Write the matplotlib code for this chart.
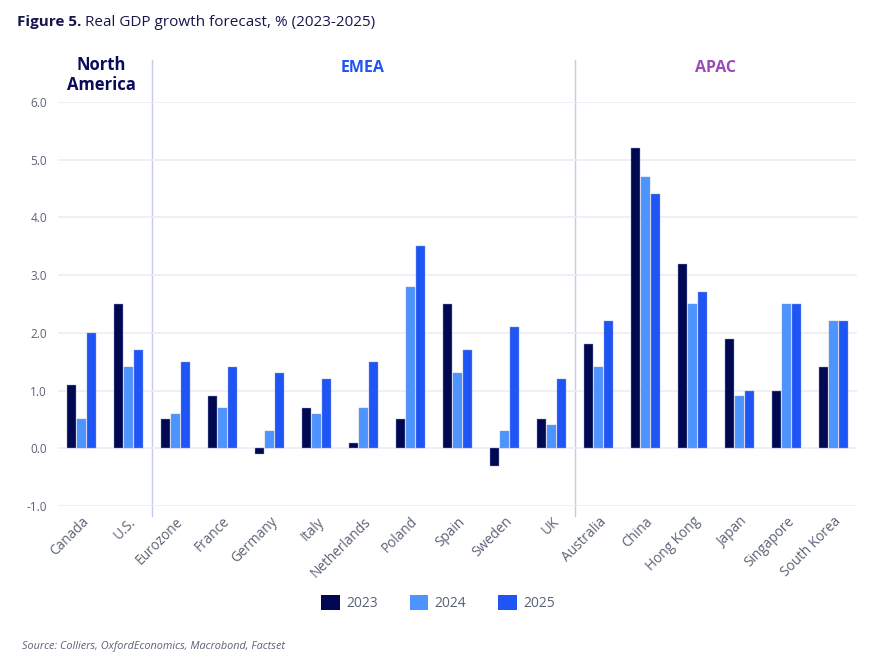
import matplotlib.pyplot as plt
import numpy as np

plt.rcParams['font.family'] = ['Open Sans', 'DejaVu Sans']

countries = ["Canada", "U.S.", "Eurozone", "France", "Germany", "Italy", "Netherlands",
             "Poland", "Spain", "Sweden", "UK", "Australia", "China", "Hong Kong",
             "Japan", "Singapore", "South Korea"]
gdp_2023 = [1.1, 2.5, 0.5, 0.9, -0.1, 0.7, 0.1, 0.5, 2.5, -0.3, 0.5, 1.8, 5.2, 3.2, 1.9, 1.0, 1.4]
gdp_2024 = [0.5, 1.4, 0.6, 0.7, 0.3, 0.6, 0.7, 2.8, 1.3, 0.3, 0.4, 1.4, 4.7, 2.5, 0.9, 2.5, 2.2]
gdp_2025 = [2.0, 1.7, 1.5, 1.4, 1.3, 1.2, 1.5, 3.5, 1.7, 2.1, 1.2, 2.2, 4.4, 2.7, 1.0, 2.5, 2.2]
years = ["2023", "2024", "2025"]
colors = ["#000852", "#4d94ff", "#1f55f5"]

fig = plt.figure(figsize=(8.7, 6.62), dpi=100)
ax = fig.add_axes([58/870, 1 - 506/662, (857 - 58)/870, (506 - 102)/662])

x = np.arange(len(countries))
w = 0.19
off = 0.22
for i, (vals, c, yr) in enumerate(zip([gdp_2023, gdp_2024, gdp_2025], colors, years)):
    ax.bar(x + (i - 1) * off, vals, width=w, color=c, label=yr, zorder=3,
           edgecolor="#8a9ad0", linewidth=0.3)

ax.set_xlim(-0.5, len(countries) - 0.5)
ax.set_ylim(-1.0, 6.0)
ax.set_yticks(np.arange(-1, 7, 1))
ax.set_yticklabels([f"{v:.1f}" for v in np.arange(-1, 7, 1)], color="#5a6275", fontsize=8.5)
ax.set_xticks(x)
ax.set_xticklabels(countries, rotation=45, ha="right", rotation_mode="anchor",
                   color="#5a6275", fontsize=9.8)
ax.tick_params(length=0, pad=8)
ax.tick_params(axis="x", pad=6)
ax.grid(axis="y", color="#ececf3", linewidth=1.2, zorder=0)
for s in ax.spines.values():
    s.set_visible(False)

# region separators
for sx in [1.5, 10.5]:
    ax.axvline(sx, ymin=-0.025, ymax=1.104, color="#c3caee", linewidth=1, clip_on=False, zorder=1)

fig.text(101/870, 1 - 75/662, "North\nAmerica", ha="center", va="center", fontsize=12,
         fontweight="bold", color="#0b0b5c", linespacing=1.15)
fig.text(363/870, 1 - 68/662, "EMEA", ha="center", va="center", fontsize=11.5,
         fontweight="bold", color="#1f55f5")
fig.text(716/870, 1 - 68/662, "APAC", ha="center", va="center", fontsize=11.5,
         fontweight="bold", color="#9b4bb8")

# title
t1 = fig.text(17/870, 1 - 22/662, "Figure 5.", ha="left", va="center", fontsize=11,
              fontweight="bold", color="#14164a")
fig.canvas.draw()
bb = t1.get_window_extent()
fig.text((bb.x1 + 4)/870, 1 - 22/662, "Real GDP growth forecast, % (2023-2025)", ha="left",
         va="center", fontsize=11, color="#14164a")

leg = fig.legend(loc="center", bbox_to_anchor=(438/870, 1 - 603/662), ncol=3, frameon=False,
                 fontsize=10, handlelength=1.35, handleheight=1.35, columnspacing=2.3,
                 handletextpad=0.45)
for t in leg.get_texts():
    t.set_color("#5a6275")
for h in leg.legend_handles:
    h.set_linewidth(0)

fig.text(22/870, 1 - 647/662, "Source: Colliers, OxfordEconomics, Macrobond, Factset", ha="left",
         va="center", fontsize=7.8, style="italic", color="#5a6275")

fig.savefig("out.png", dpi=100)
